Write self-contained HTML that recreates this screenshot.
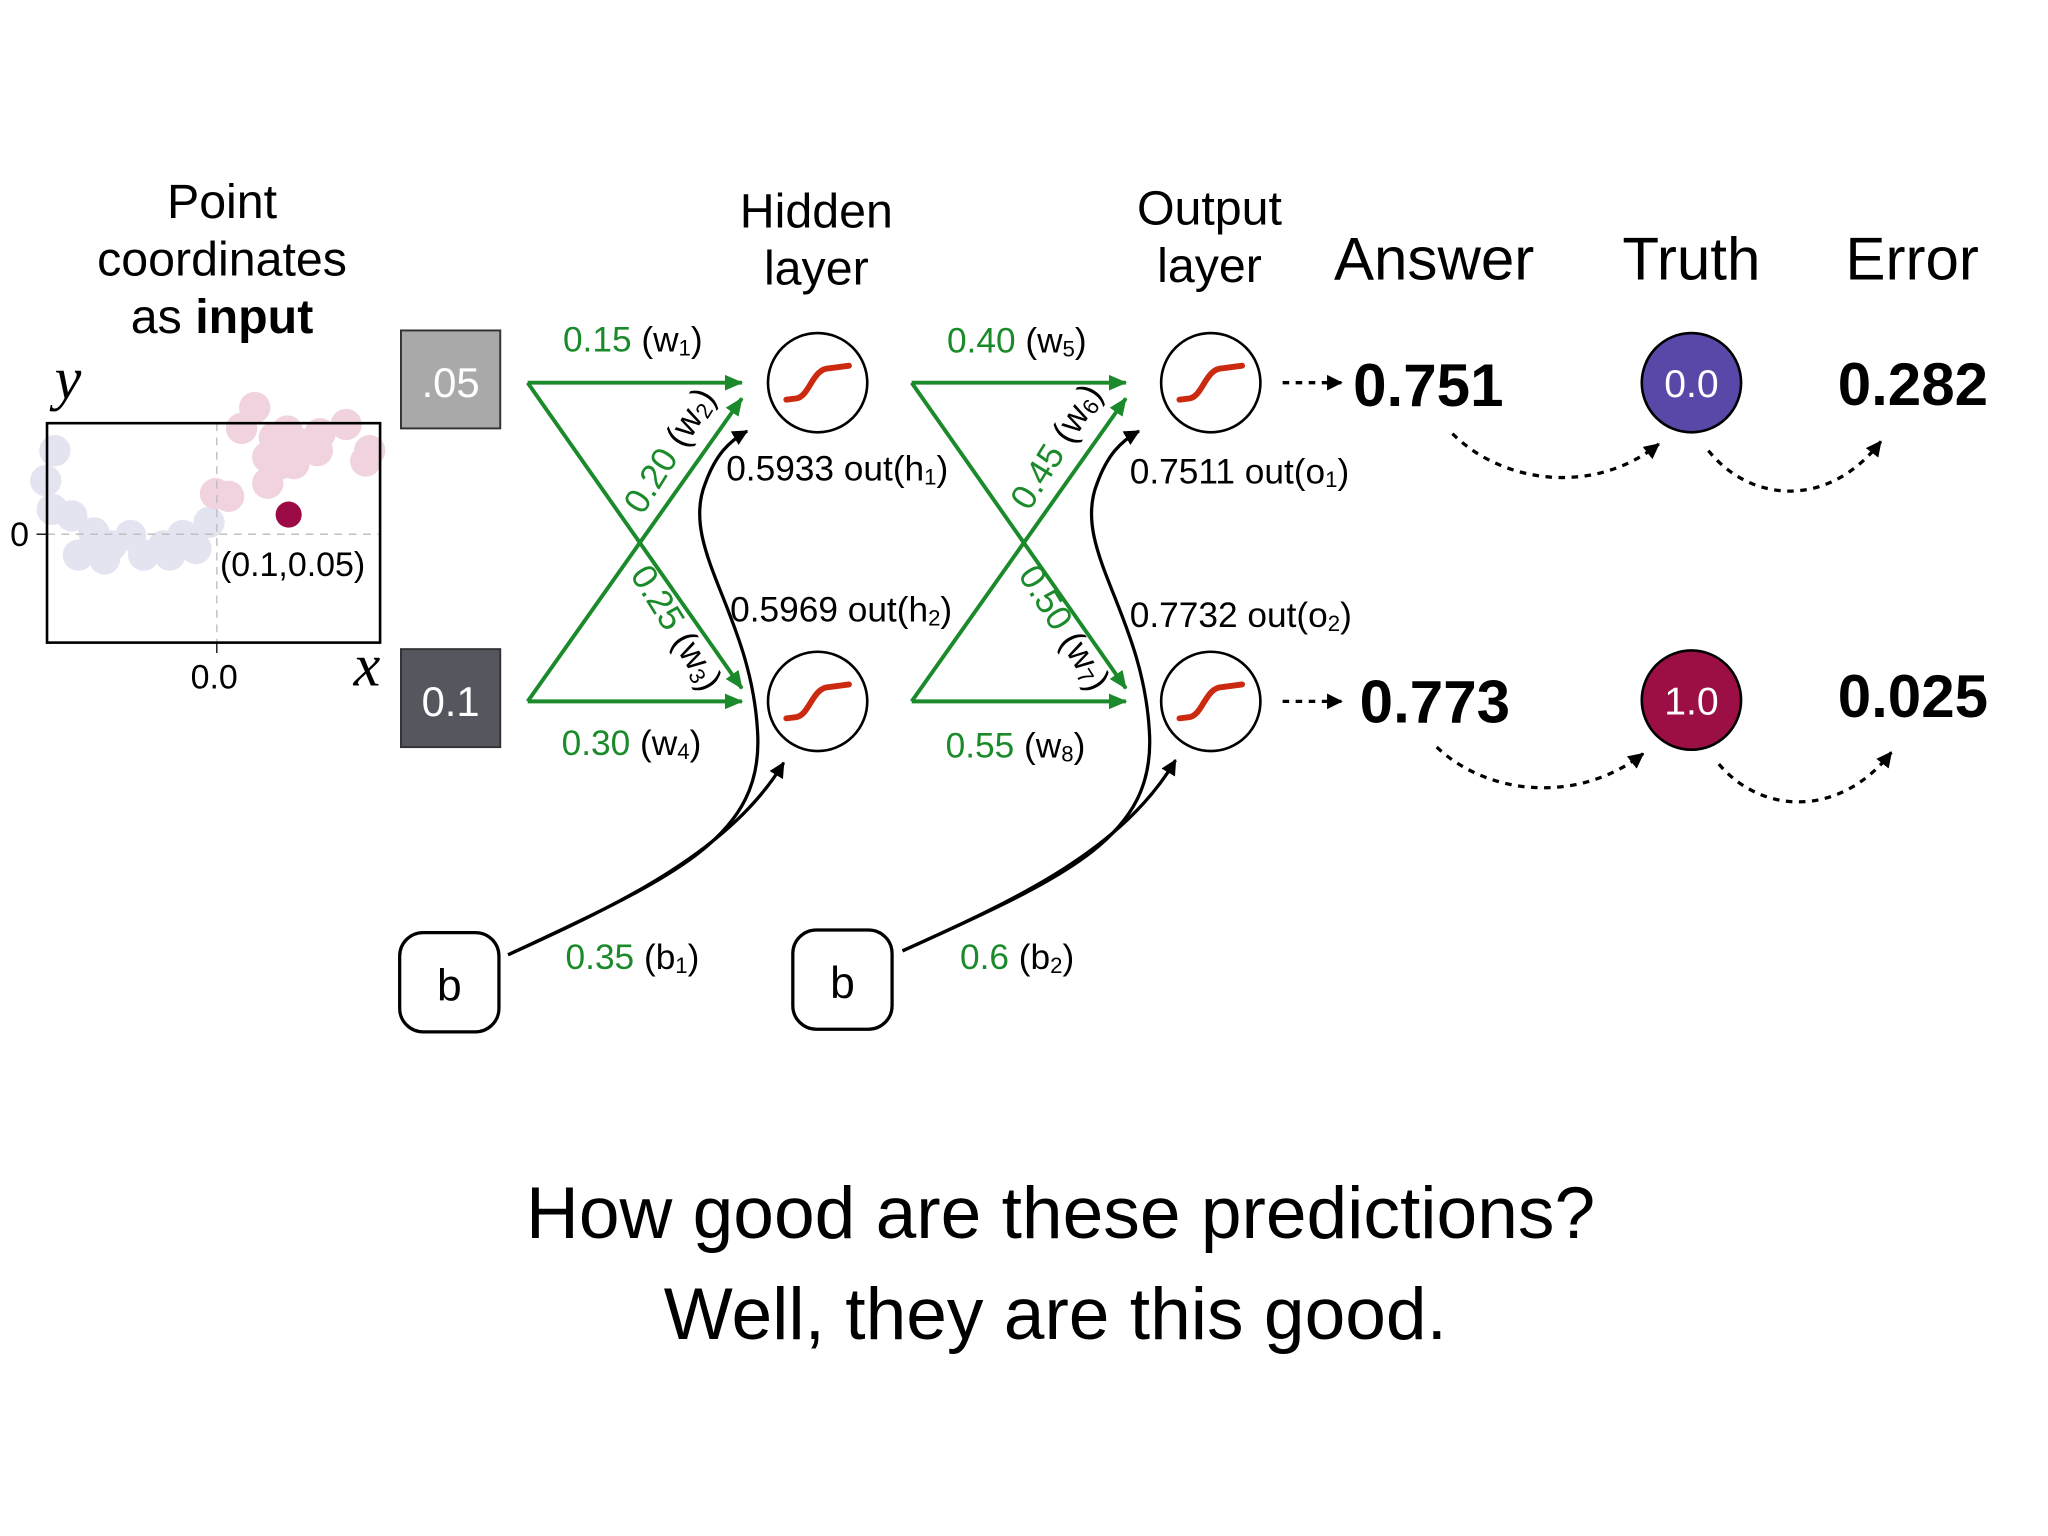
<!DOCTYPE html>
<html><head><meta charset="utf-8"><style>
html,body{margin:0;padding:0;background:#fff;}
svg{display:block;}
text{font-family:"Liberation Sans",sans-serif;}
</style></head><body>
<svg width="2048" height="1536" viewBox="0 0 1568 1176" xmlns="http://www.w3.org/2000/svg">
<defs>
<marker id="gb" markerWidth="14" markerHeight="12" refX="13" refY="6" orient="auto" markerUnits="userSpaceOnUse"><path d="M0,0 L14,6 L0,12 z" fill="#1a8a2a"/></marker>
<marker id="k" markerWidth="12" markerHeight="12" refX="11" refY="6" orient="auto" markerUnits="userSpaceOnUse"><path d="M0,0 L12,6 L0,12 z" fill="#000"/></marker>
</defs>
<rect width="1568" height="1176" fill="#fff"/>
<text x="170" y="167" font-size="37" text-anchor="middle">Point</text>
<text x="170" y="211" font-size="37" text-anchor="middle">coordinates</text>
<text x="170" y="255" font-size="37" text-anchor="middle">as <tspan font-weight="bold">input</tspan></text>
<text x="625" y="174" font-size="37" text-anchor="middle">Hidden</text>
<text x="625" y="218" font-size="37" text-anchor="middle">layer</text>
<text x="926" y="172" font-size="37" text-anchor="middle">Output</text>
<text x="926" y="216" font-size="37" text-anchor="middle">layer</text>
<text x="1098" y="214" font-size="46" text-anchor="middle">Answer</text>
<text x="1295" y="214" font-size="46" text-anchor="middle">Truth</text>
<text x="1464" y="214" font-size="46" text-anchor="middle">Error</text>
<g opacity="0.45">
<g fill="#c4c4e0">
<circle cx="42" cy="345" r="12"/><circle cx="35" cy="368" r="12"/><circle cx="40" cy="390" r="12"/><circle cx="55" cy="395" r="12"/><circle cx="72" cy="408" r="12"/><circle cx="60" cy="425" r="12"/><circle cx="85" cy="418" r="12"/><circle cx="100" cy="410" r="12"/><circle cx="110" cy="425" r="12"/><circle cx="125" cy="418" r="12"/><circle cx="140" cy="410" r="12"/><circle cx="150" cy="420" r="12"/><circle cx="80" cy="428" r="12"/><circle cx="130" cy="425" r="12"/><circle cx="160" cy="400" r="12"/>
</g>
<g fill="#e0a0b8">
<circle cx="165" cy="378" r="12"/><circle cx="175" cy="380" r="12"/><circle cx="185" cy="328" r="12"/><circle cx="195" cy="312" r="12"/><circle cx="205" cy="350" r="12"/><circle cx="210" cy="335" r="12"/><circle cx="220" cy="330" r="12"/><circle cx="215" cy="355" r="12"/><circle cx="205" cy="370" r="12"/><circle cx="230" cy="340" r="12"/><circle cx="245" cy="332" r="12"/><circle cx="243" cy="345" r="12"/><circle cx="265" cy="325" r="12"/><circle cx="283" cy="345" r="12"/><circle cx="280" cy="353" r="12"/><circle cx="225" cy="355" r="12"/>
</g>
</g>
<line x1="36" y1="409" x2="290" y2="409" stroke="#bbb" stroke-dasharray="6,5"/>
<line x1="166" y1="324" x2="166" y2="492" stroke="#bbb" stroke-dasharray="6,5"/>
<rect x="36" y="324" width="255" height="168" fill="none" stroke="#000" stroke-width="2"/>
<line x1="28" y1="409" x2="36" y2="409" stroke="#000"/>
<line x1="166" y1="492" x2="166" y2="500" stroke="#000"/>
<circle cx="221" cy="394" r="10" fill="#9b0a45"/>
<text x="224" y="441" font-size="26" text-anchor="middle">(0.1,0.05)</text>
<text x="15" y="418" font-size="26" text-anchor="middle">0</text>
<text x="164" y="527" font-size="26" text-anchor="middle">0.0</text>
<text x="52" y="305" font-size="46" font-style="italic" text-anchor="middle" style="font-family:'Liberation Serif',serif">y</text>
<text x="281" y="525" font-size="46" font-style="italic" text-anchor="middle" style="font-family:'Liberation Serif',serif">x</text>
<rect x="307" y="253" width="76" height="75" fill="#a9a9a9" stroke="#333" stroke-width="1.5"/>
<text x="345" y="304" font-size="32" fill="#fff" text-anchor="middle">.05</text>
<rect x="307" y="497" width="76" height="75" fill="#54575d" stroke="#333" stroke-width="1.5"/>
<text x="345" y="548" font-size="32" fill="#fff" text-anchor="middle">0.1</text>
<g stroke="#1a8a2a" stroke-width="3" fill="none">
<line x1="404" y1="293" x2="568" y2="293" marker-end="url(#gb)"/>
<line x1="404" y1="293" x2="568" y2="527" marker-end="url(#gb)"/>
<line x1="404" y1="537" x2="568" y2="305" marker-end="url(#gb)"/>
<line x1="404" y1="537" x2="568" y2="537" marker-end="url(#gb)"/>
<line x1="698" y1="293" x2="862" y2="293" marker-end="url(#gb)"/>
<line x1="698" y1="293" x2="862" y2="527" marker-end="url(#gb)"/>
<line x1="698" y1="537" x2="862" y2="305" marker-end="url(#gb)"/>
<line x1="698" y1="537" x2="862" y2="537" marker-end="url(#gb)"/>
</g>
<g font-size="27">
<text x="431" y="269" fill="#1a8a2a">0.15 <tspan fill="#000">(w<tspan font-size="17" dy="3">1</tspan><tspan dy="-3">)</tspan></tspan></text>
<text x="430" y="578" fill="#1a8a2a">0.30 <tspan fill="#000">(w<tspan font-size="17" dy="3">4</tspan><tspan dy="-3">)</tspan></tspan></text>
<text x="725" y="270" fill="#1a8a2a">0.40 <tspan fill="#000">(w<tspan font-size="17" dy="3">5</tspan><tspan dy="-3">)</tspan></tspan></text>
<text x="724" y="580" fill="#1a8a2a">0.55 <tspan fill="#000">(w<tspan font-size="17" dy="3">8</tspan><tspan dy="-3">)</tspan></tspan></text>
<text transform="translate(492,395) rotate(-58)" fill="#1a8a2a">0.20 <tspan fill="#000">(w<tspan font-size="17" dy="3">2</tspan><tspan dy="-3">)</tspan></tspan></text>
<text transform="translate(788,392) rotate(-58)" fill="#1a8a2a">0.45 <tspan fill="#000">(w<tspan font-size="17" dy="3">6</tspan><tspan dy="-3">)</tspan></tspan></text>
<text transform="translate(482,440) rotate(58)" fill="#1a8a2a">0.25 <tspan fill="#000">(w<tspan font-size="17" dy="3">3</tspan><tspan dy="-3">)</tspan></tspan></text>
<text transform="translate(779,440) rotate(58)" fill="#1a8a2a">0.50 <tspan fill="#000">(w<tspan font-size="17" dy="3">7</tspan><tspan dy="-3">)</tspan></tspan></text>
<text x="433" y="742" fill="#1a8a2a">0.35 <tspan fill="#000">(b<tspan font-size="17" dy="3">1</tspan><tspan dy="-3">)</tspan></tspan></text>
<text x="735" y="742" fill="#1a8a2a">0.6 <tspan fill="#000">(b<tspan font-size="17" dy="3">2</tspan><tspan dy="-3">)</tspan></tspan></text>
<text x="556" y="368">0.5933 out(h<tspan font-size="17" dy="3">1</tspan><tspan dy="-3">)</tspan></text>
<text x="559" y="476">0.5969 out(h<tspan font-size="17" dy="3">2</tspan><tspan dy="-3">)</tspan></text>
<text x="865" y="370">0.7511 out(o<tspan font-size="17" dy="3">1</tspan><tspan dy="-3">)</tspan></text>
<text x="865" y="480">0.7732 out(o<tspan font-size="17" dy="3">2</tspan><tspan dy="-3">)</tspan></text>
</g>
<g fill="#fff" stroke="#000" stroke-width="2">
<circle cx="626" cy="293" r="38"/><circle cx="626" cy="537" r="38"/>
<circle cx="927" cy="293" r="38"/><circle cx="927" cy="537" r="38"/>
</g>
<g stroke="#cc2a10" stroke-width="4.5" fill="none" stroke-linecap="round">
<path d="M602,306 L610,305 C620,303 622,282 635,282 L650,280"/>
<path d="M602,550 L610,549 C620,547 622,526 635,526 L650,524"/>
<path d="M903,306 L911,305 C921,303 923,282 936,282 L951,280"/>
<path d="M903,550 L911,549 C921,547 923,526 936,526 L951,524"/>
</g>
<rect x="306" y="714" width="76" height="76" rx="18" fill="#fff" stroke="#000" stroke-width="2.5"/>
<text x="344" y="766" font-size="34" text-anchor="middle">b</text>
<rect x="607" y="712" width="76" height="76" rx="18" fill="#fff" stroke="#000" stroke-width="2.5"/>
<text x="645" y="764" font-size="34" text-anchor="middle">b</text>
<g stroke="#000" stroke-width="2.5" fill="none">
<path d="M389,731 C520,670 585,640 580,560 C575,470 520,420 540,370 C548,348 558,338 572,330" marker-end="url(#k)"/>
<path d="M389,731 C480,690 560,650 600,584" marker-end="url(#k)"/>
<path d="M691,728 C820,670 885,640 880,560 C875,470 820,420 840,370 C848,348 858,338 872,330" marker-end="url(#k)"/>
<path d="M691,728 C780,688 860,650 900,582" marker-end="url(#k)"/>
</g>
<g stroke="#000" stroke-width="2.5" fill="none" stroke-dasharray="5,5">
<line x1="982" y1="293" x2="1027" y2="293" marker-end="url(#k)"/>
<line x1="982" y1="537" x2="1027" y2="537" marker-end="url(#k)"/>
<path d="M1112,332 C1150,370 1220,380 1270,340" marker-end="url(#k)"/>
<path d="M1308,345 C1340,385 1400,390 1440,338" marker-end="url(#k)"/>
<path d="M1100,572 C1140,610 1210,615 1258,577" marker-end="url(#k)"/>
<path d="M1316,585 C1350,625 1410,625 1448,576" marker-end="url(#k)"/>
</g>
<text x="1036" y="311" font-size="46" font-weight="bold">0.751</text>
<text x="1041" y="553" font-size="46" font-weight="bold">0.773</text>
<text x="1407" y="310" font-size="46" font-weight="bold">0.282</text>
<text x="1407" y="549" font-size="46" font-weight="bold">0.025</text>
<circle cx="1295" cy="293" r="38" fill="#5a48a8" stroke="#000" stroke-width="2"/>
<text x="1295" y="304" font-size="30" fill="#fff" text-anchor="middle">0.0</text>
<circle cx="1295" cy="536" r="38" fill="#9c0f44" stroke="#000" stroke-width="2"/>
<text x="1295" y="547" font-size="30" fill="#fff" text-anchor="middle">1.0</text>
<text x="812" y="948" font-size="56" text-anchor="middle">How good are these predictions?</text>
<text x="808" y="1025" font-size="56" text-anchor="middle">Well, they are this good.</text>
</svg>
</body></html>
